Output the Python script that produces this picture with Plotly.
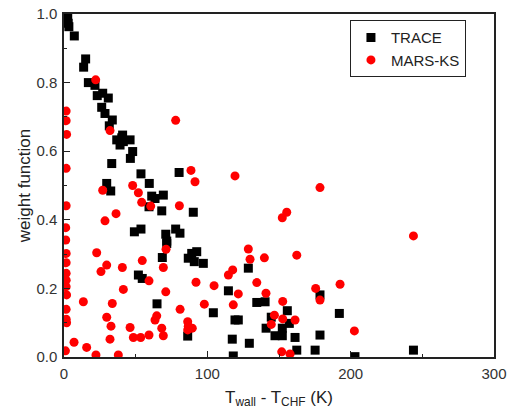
import plotly.graph_objects as go

trace_x = [2.6, 2.9, 3.4, 7.2, 15.1, 13.7, 17.0, 21.6, 23.2, 27.0, 30.9, 26.3, 28.6, 33.7, 31.6,
           40.9, 36.8, 40.3, 39.1, 46.1, 41.4, 47.9, 46.3, 33.3, 53.7, 80.3, 59.5, 29.8, 32.6,
           61.2, 63.5, 69.3, 59.3, 68.2, 90.2, 53.7, 49.1, 77.9, 80.9, 71.0, 71.7, 71.7, 68.6,
           89.1, 92.6, 86.7, 90.9, 97.2, 51.9, 54.6, 64.9, 86.3, 128.6, 114.7, 178.6, 134.5,
           140.3, 104.2, 155.8, 192.1, 119.3, 121.6, 144.6, 157.2, 141.0, 152.3, 147.2, 152.3,
           161.2, 178.6, 117.4, 129.3, 162.4, 175.2, 118.1, 243.8, 203.0]
trace_y = [0.987, 0.973, 0.963, 0.936, 0.869, 0.845, 0.800, 0.792, 0.762, 0.769, 0.755, 0.728,
           0.710, 0.691, 0.674, 0.647, 0.633, 0.639, 0.618, 0.633, 0.628, 0.599, 0.579, 0.564,
           0.534, 0.538, 0.506, 0.506, 0.484, 0.469, 0.462, 0.472, 0.438, 0.426, 0.422, 0.373,
           0.365, 0.373, 0.361, 0.358, 0.338, 0.331, 0.290, 0.302, 0.307, 0.288, 0.278, 0.273,
           0.239, 0.229, 0.155, 0.061, 0.259, 0.193, 0.181, 0.159, 0.161, 0.129, 0.135, 0.127,
           0.108, 0.108, 0.116, 0.098, 0.084, 0.084, 0.062, 0.062, 0.057, 0.064, 0.052, 0.040,
           0.020, 0.020, 0.003, 0.020, 0.001]

mars_x = [1.5, 1.5, 1.8, 1.5, 1.5, 1.2, 1.2, 1.5, 1.5, 1.5, 1.5, 1.5, 1.8, 1.5, 1.5, 1.8, 1.0,
          22.1, 32.1, 77.9, 27.0, 47.9, 51.9, 88.6, 91.4, 54.2, 60.5, 80.5, 36.3, 28.6, 71.2,
          22.8, 29.8, 25.8, 40.7, 54.6, 69.3, 59.3, 92.1, 41.4, 71.0, 13.5, 33.7, 81.0, 97.9,
          29.8, 64.7, 63.5, 86.3, 86.7, 89.5, 86.3, 32.8, 46.1, 68.2, 48.4, 53.5, 59.3, 69.3,
          32.1, 7.0, 15.8, 22.3, 37.9, 128.6, 129.8, 139.8, 162.4, 117.7, 114.7, 104.7, 134.5,
          121.6, 140.9, 175.6, 178.6, 192.6, 152.6, 118.1, 146.8, 152.6, 161.2, 144.6, 151.9,
          157.7, 119.3, 178.6, 155.4, 152.3, 243.8, 202.6]
mars_y = [0.717, 0.689, 0.649, 0.550, 0.441, 0.377, 0.341, 0.302, 0.275, 0.244, 0.224, 0.205,
          0.181, 0.139, 0.110, 0.100, 0.018,
          0.808, 0.660, 0.690, 0.486, 0.500, 0.479, 0.544, 0.511, 0.451, 0.440, 0.441, 0.418,
          0.397, 0.314, 0.304, 0.268, 0.249, 0.261, 0.281, 0.261, 0.222, 0.218, 0.197, 0.190,
          0.161, 0.156, 0.139, 0.154, 0.116, 0.120, 0.108, 0.103, 0.090, 0.084, 0.079, 0.090,
          0.086, 0.084, 0.057, 0.057, 0.064, 0.062, 0.052, 0.043, 0.028, 0.006, 0.006, 0.315,
          0.285, 0.289, 0.297, 0.254, 0.239, 0.208, 0.217, 0.184, 0.186, 0.200, 0.166, 0.212,
          0.162, 0.152, 0.122, 0.111, 0.108, 0.095, 0.015, 0.009, 0.528, 0.494, 0.422, 0.406,
          0.353, 0.076]

x_ticks = [0, 100, 200, 300]
y_ticks = [0.0, 0.2, 0.4, 0.6, 0.8, 1.0]

FONT = "Arial, Liberation Sans, sans-serif"

fig = go.Figure()
fig.add_trace(go.Scatter(x=trace_x, y=trace_y, mode="markers", name="TRACE",
                         marker=dict(symbol="square", size=9, color="black")))
fig.add_trace(go.Scatter(x=mars_x, y=mars_y, mode="markers", name="MARS-KS",
                         marker=dict(symbol="circle", size=9, color="#ff0000")))

axis_common = dict(showline=True, linecolor="#222", linewidth=1.5, mirror=True,
                   ticks="inside", ticklen=6, tickwidth=1, tickcolor="#222",
                   showgrid=False, zeroline=False, automargin=False,
                   ticklabeloverflow="allow",
                   tickfont=dict(family=FONT, size=15, color="#333"))

fig.update_xaxes(range=[0, 300], tickvals=x_ticks, ticktext=[str(v) for v in x_ticks],
                 minor=dict(ticks="inside", ticklen=3, tickvals=[50, 150, 250], tickcolor="#222"),
                 ticklabelstandoff=2,
                 title=dict(text="T<sub>wall</sub> - T<sub>CHF</sub> (K)",
                            font=dict(family=FONT, size=17, color="#222"), standoff=10),
                 **axis_common)
fig.update_yaxes(range=[0, 1.0], tickvals=y_ticks, ticktext=[f"{v:.1f}" for v in y_ticks],
                 minor=dict(ticks="inside", ticklen=3, tickvals=[0.1, 0.3, 0.5, 0.7, 0.9], tickcolor="#222"),
                 ticklabelstandoff=2,
                 title=dict(text="weight function", font=dict(family=FONT, size=17, color="#222"),
                            standoff=1),
                 **axis_common)

fig.update_layout(
    width=515, height=416,
    margin=dict(l=64, r=21, t=14, b=59),
    plot_bgcolor="white", paper_bgcolor="white",
    legend=dict(x=0.665, y=0.982, xanchor="left", yanchor="top",
                bordercolor="#222", borderwidth=1, bgcolor="white",
                font=dict(family=FONT, size=15, color="#222"),
                itemwidth=30, tracegroupgap=0),
    showlegend=True,
)

fig.write_html("out.html", config={"displayModeBar": False},
               post_script="document.body.style.margin='0';")
